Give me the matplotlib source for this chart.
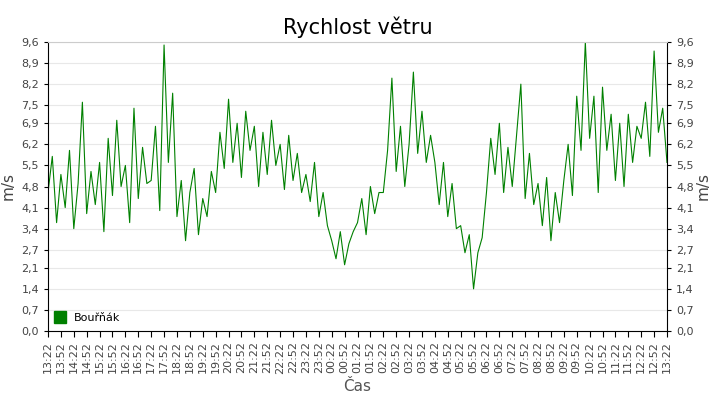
import matplotlib
matplotlib.use("Agg")
import matplotlib.pyplot as plt
import numpy as np

series_name = "Bouřňák"
# wind speed, one value per 10 minutes from 13:22
speed = [
 4.6,5.8,3.6,5.2,4.1,6.0,  3.4,4.9,7.6,3.9,5.3,4.2,
 5.6,3.3,6.4,4.5,7.0,4.8,  5.5,3.6,7.4,4.4,6.1,4.9,
 5.0,6.8,4.0,9.5,5.6,7.9,  3.8,5.0,3.0,4.6,5.4,3.2,
 4.4,3.8,5.3,4.6,6.6,5.4,  7.7,5.6,6.9,5.1,7.3,6.0,
 6.8,4.8,6.6,5.2,7.0,5.5,  6.2,4.7,6.5,5.0,5.9,4.6,
 5.2,4.3,5.6,3.8,4.6,3.5,  3.0,2.4,3.3,2.2,2.9,3.3,
 3.6,4.4,3.2,4.8,3.9,4.6,  4.6,6.0,8.4,5.3,6.8,4.8,
 6.2,8.6,5.9,7.3,5.6,6.5,  5.6,4.2,5.6,3.8,4.9,3.4,
 3.5,2.6,3.2,1.4,2.6,3.1,  4.6,6.4,5.2,6.9,4.6,6.1,
 4.8,6.5,8.2,4.4,5.9,4.2,  4.9,3.5,5.1,3.0,4.6,3.6,
 5.0,6.2,4.5,7.8,6.0,9.6,  6.4,7.8,4.6,8.1,6.0,7.2,
 5.0,6.9,4.8,7.2,5.6,6.8,  6.4,7.6,5.8,9.3,6.6,7.4,
 5.6]
tick_labels = []
h, m = 13, 22
for i in range(49):
    tick_labels.append(f"{h:02d}:{m:02d}")
    m += 30
    if m >= 60:
        m -= 60; h = (h + 1) % 24
y_ticks = [0.0,0.7,1.4,2.1,2.7,3.4,4.1,4.8,5.5,6.2,6.9,7.5,8.2,8.9,9.6]

fig = plt.figure(figsize=(7.2, 4.0), dpi=100)
ax = fig.add_axes([48/720, 69/400, 619/720, 289/400])
x = np.arange(len(speed)) * 10
ax.plot(x, speed, color="#008000", lw=0.8)
ax.set_xlim(0, 1440)
ax.set_ylim(0, 9.6)
ax.set_xticks(np.arange(49) * 30)
ax.set_xticklabels(tick_labels, rotation=90, fontsize=8, color="#444444")
ax.set_yticks(y_ticks)
ax.set_yticklabels([f"{v:.1f}".replace(".", ",") for v in y_ticks], fontsize=8, color="#444444")
ax.tick_params(axis="y", which="both", right=True, labelright=True, length=3)
ax.tick_params(axis="x", length=4)
ax.grid(axis="y", color="#e8e8e8", lw=0.8)
ax.spines["top"].set_color("#cccccc")
ax.set_title("Rychlost větru", fontsize=15, pad=6)
ax.set_xlabel("Čas", fontsize=11, color="#555555")
ax.set_ylabel("m/s", fontsize=11, color="#444444")
ax.text(1.058, 0.5, "m/s", transform=ax.transAxes, rotation=90, va="center",
        ha="center", fontsize=11, color="#444444")
ax.plot([], [], "s", color="#008000", ms=9, label=series_name)
ax.legend(loc="lower left", frameon=False, fontsize=8, handlelength=0.8, borderaxespad=0.3)
fig.savefig("out.png", dpi=100)
